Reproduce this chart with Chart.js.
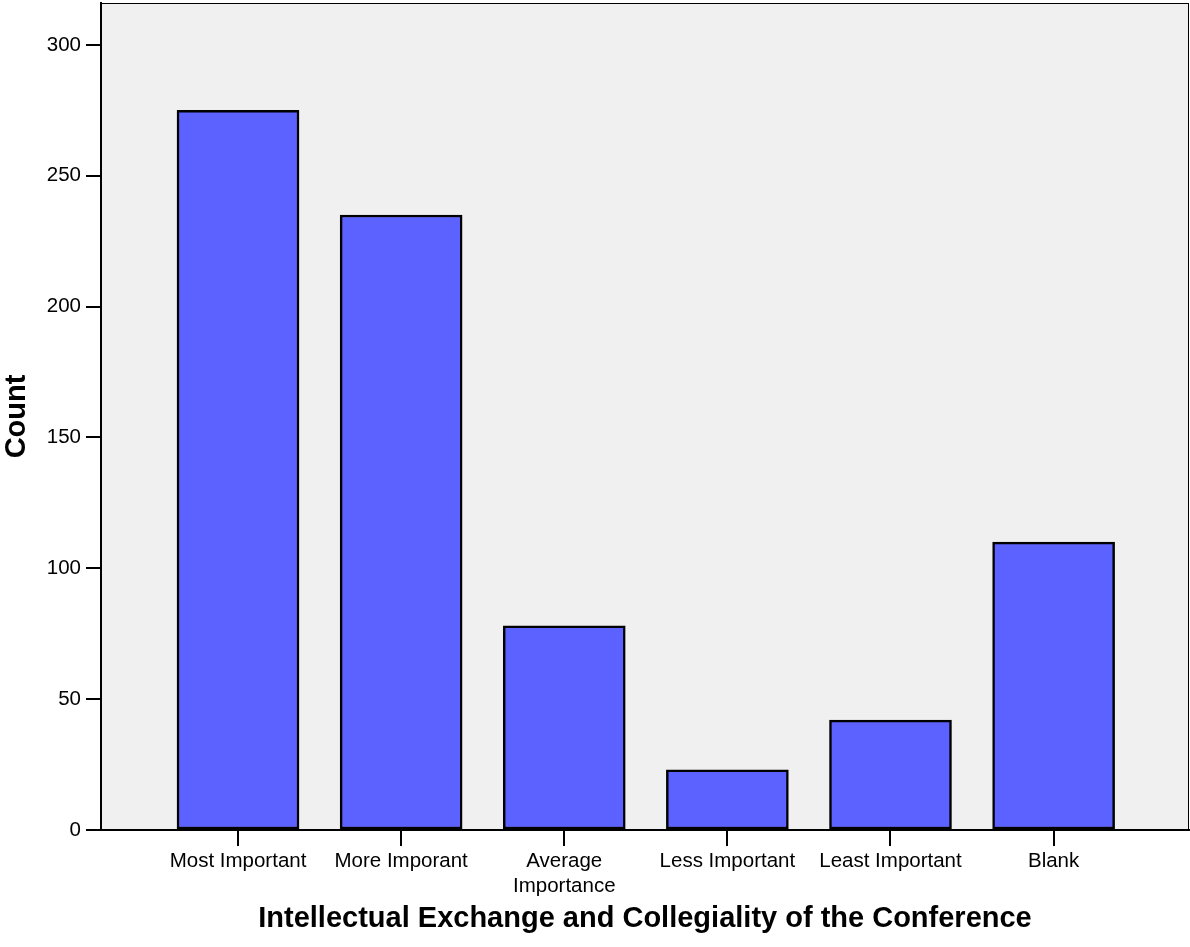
<!DOCTYPE html>
<html>
<head>
<meta charset="utf-8">
<script src="https://cdn.jsdelivr.net/npm/chart.js@4/dist/chart.umd.min.js"></script>
<style>
  body { margin: 0; background: #fff; }
  #wrap { width: 1190px; height: 947px; }
</style>
</head>
<body>
<div id="wrap"><canvas id="countChart"></canvas></div>
<script>
const categories = ["Most Important", "More Imporant", ["Average", "Importance"], "Less Important", "Least Important", "Blank"];
const counts = [275, 235, 78, 23, 42, 110];
const yTicks = [0, 50, 100, 150, 200, 250, 300];

const fontFamily = "'Liberation Sans', Arial, sans-serif";

// plot background + thin frame
const plotBox = {
    id: "plotBox",
    beforeDraw(chart) {
        const { ctx, chartArea: a } = chart;
        ctx.save();
        ctx.fillStyle = "#f0f0f0";
        ctx.fillRect(a.left, a.top, a.right - a.left, a.bottom - a.top);
        ctx.strokeStyle = "#000";
        ctx.lineWidth = 1;
        ctx.strokeRect(a.left + 0.5, a.top + 0.5, a.right - a.left - 1, a.bottom - a.top);
        ctx.restore();
    }
};

const ctx = document.getElementById("countChart").getContext("2d");

const data = {
    datasets: [
        {
            label: "Count",
            data: counts.map((v, i) => ({ x: i, y: v })),
            backgroundColor: "#5c62ff",
            borderColor: "#000",
            borderWidth: 2.5,
            borderSkipped: false,
            barThickness: 122
        }
    ]
};

const config = {
    type: "bar",
    data: data,
    plugins: [plotBox],
    options: {
        responsive: true,
        maintainAspectRatio: false,
        animation: false,
        layout: { padding: { top: 3, right: 1, left: 0, bottom: 0 } },
        plugins: {
            legend: { display: false },
            tooltip: { enabled: false }
        },
        scales: {
            x: {
                type: "linear",
                min: -0.84,
                max: 5.83,
                offset: false,
                afterFit(scale) {
                    scale.height = 117;
                    scale.paddingLeft = 0;
                    scale.paddingRight = 0;
                },
                afterBuildTicks(scale) {
                    scale.ticks = categories.map((c, i) => ({ value: i }));
                },
                grid: {
                    offset: false,
                    drawOnChartArea: false,
                    tickLength: 16,
                    color: "#000",
                    lineWidth: 2
                },
                border: { display: true, color: "#000", width: 2 },
                ticks: {
                    autoSkip: false,
                    maxRotation: 0,
                    padding: 3,
                    color: "#000",
                    font: { family: fontFamily, size: 20.5 },
                    callback: (v) => categories[v]
                },
                title: {
                    display: true,
                    text: "Intellectual Exchange and Collegiality of the Conference",
                    color: "#000",
                    font: { family: fontFamily, size: 29, weight: "bold", lineHeight: 1 },
                    padding: { top: 0, bottom: 14 }
                }
            },
            y: {
                min: 0,
                max: 316,
                afterFit(scale) {
                    scale.width = 101;
                    scale.paddingTop = 0;
                    scale.paddingBottom = 0;
                },
                afterBuildTicks(scale) {
                    scale.ticks = yTicks.map(v => ({ value: v }));
                },
                grid: {
                    drawOnChartArea: false,
                    tickLength: 15,
                    color: "#000",
                    lineWidth: 2
                },
                border: { display: true, color: "#000", width: 2 },
                ticks: {
                    padding: 5,
                    color: "#000",
                    font: { family: fontFamily, size: 20.5 }
                },
                title: {
                    display: true,
                    text: "Count",
                    color: "#000",
                    font: { family: fontFamily, size: 29, weight: "bold", lineHeight: 1 },
                    padding: { top: 2, bottom: 0 }
                }
            }
        }
    }
};

const chart = new Chart(ctx, config);
</script>
</body>
</html>
